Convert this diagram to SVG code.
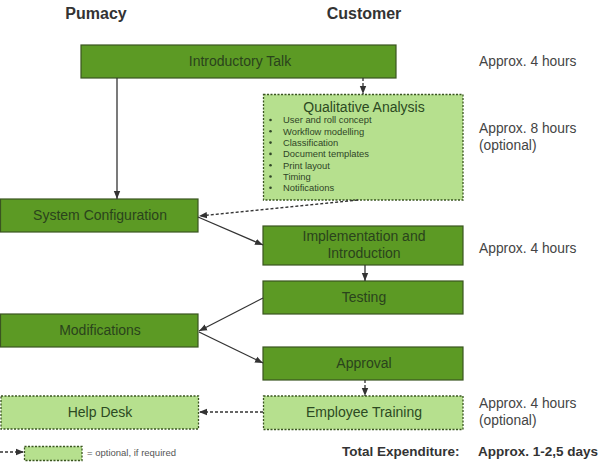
<svg xmlns="http://www.w3.org/2000/svg" width="600" height="462" viewBox="0 0 600 462">
<defs>
<marker id="ah" markerUnits="userSpaceOnUse" markerWidth="8" markerHeight="8" viewBox="0 0 8 8" refX="8" refY="4" orient="auto">
<path d="M0,0.8 L8,4 L0,7.2 z" fill="#333"/>
</marker>
<style>
.dark{fill:#5c9a24;stroke:#3a5520;stroke-width:1.2}
.light{fill:#b6e08e;stroke:#3a5520;stroke-width:1.3;stroke-dasharray:2,1.5}
.t{font-family:"Liberation Sans",Arial,sans-serif;font-size:14px;text-anchor:middle}
.td{fill:#2a431c}
.tl{fill:#2c4a22}
.b{font-family:"Liberation Sans",Arial,sans-serif;font-size:9.4px;fill:#2f4527}
.side{font-family:"Liberation Sans",Arial,sans-serif;font-size:13.8px;fill:#444}
.hd{font-family:"Liberation Sans",Arial,sans-serif;font-size:16px;font-weight:bold;fill:#333;text-anchor:middle}
.tot{font-family:"Liberation Sans",Arial,sans-serif;font-size:13.5px;font-weight:bold;fill:#333}
.c{fill:none;stroke:#333;stroke-width:1.3;marker-end:url(#ah)}
.dsh{stroke-dasharray:3,2}
</style>
</defs>
<rect width="600" height="462" fill="#fff"/>
<g id="headers">
<text class="hd" x="96" y="19">Pumacy</text>
<text class="hd" x="364" y="19">Customer</text>
</g>
<g id="intro"><rect class="dark" x="81" y="45" width="315" height="33"/><text class="t td" x="240" y="66">Introductory Talk</text></g>
<g id="qual"><rect class="light" x="263.5" y="94.5" width="199.5" height="105.5"/>
<text class="t tl" x="364" y="112">Qualitative Analysis</text>
<g fill="#2f4527"><circle cx="270.5" cy="120" r="1.3"/><circle cx="270.5" cy="131.3" r="1.3"/><circle cx="270.5" cy="142.6" r="1.3"/><circle cx="270.5" cy="153.9" r="1.3"/><circle cx="270.5" cy="165.2" r="1.3"/><circle cx="270.5" cy="176.5" r="1.3"/><circle cx="270.5" cy="187.8" r="1.3"/></g>
<text class="b" x="283" y="123.3">User and roll concept</text>
<text class="b" x="283" y="134.6">Workflow modelling</text>
<text class="b" x="283" y="145.9">Classification</text>
<text class="b" x="283" y="157.2">Document templates</text>
<text class="b" x="283" y="168.5">Print layout</text>
<text class="b" x="283" y="179.8">Timing</text>
<text class="b" x="283" y="191.1">Notifications</text>
</g>
<g id="sysconfig"><rect class="dark" x="0.5" y="199" width="197.5" height="33"/><text class="t td" x="100" y="220">System Configuration</text></g>
<g id="impl"><rect class="dark" x="263" y="226" width="200" height="39"/><text class="t td" x="364" y="241">Implementation and</text><text class="t td" x="364" y="258">Introduction</text></g>
<g id="testing"><rect class="dark" x="263" y="281" width="200" height="33"/><text class="t td" x="364" y="302">Testing</text></g>
<g id="modifications"><rect class="dark" x="0.5" y="314" width="197.5" height="33"/><text class="t td" x="100" y="335">Modifications</text></g>
<g id="approval"><rect class="dark" x="263" y="347" width="200" height="33"/><text class="t td" x="364" y="368">Approval</text></g>
<g id="training"><rect class="light" x="263.5" y="396" width="199.5" height="33.5"/><text class="t tl" x="364" y="417">Employee Training</text></g>
<g id="helpdesk"><rect class="light" x="1" y="396" width="197.5" height="33"/><text class="t tl" x="100" y="417">Help Desk</text></g>
<g id="connectors">
<line class="c dsh" x1="363" y1="78" x2="363" y2="94"/>
<line class="c" x1="117" y1="78" x2="117" y2="199"/>
<line class="c dsh" x1="358" y1="200" x2="199" y2="216"/>
<line class="c" x1="198" y1="217" x2="263" y2="245"/>
<line class="c" x1="365" y1="265" x2="365" y2="281"/>
<line class="c" x1="263" y1="298" x2="199" y2="331"/>
<line class="c" x1="199" y1="332" x2="263" y2="363"/>
<line class="c dsh" x1="365" y1="380" x2="365" y2="396"/>
<line class="c dsh" x1="263" y1="412" x2="199" y2="412"/>
</g>
<g id="durations">
<text class="side" x="479" y="66">Approx. 4 hours</text>
<text class="side" x="479" y="133">Approx. 8 hours</text>
<text class="side" x="479" y="150">(optional)</text>
<text class="side" x="479" y="253">Approx. 4 hours</text>
<text class="side" x="479" y="408">Approx. 4 hours</text>
<text class="side" x="479" y="425">(optional)</text>
<text class="tot" x="342" y="456">Total Expenditure:</text>
<text class="tot" x="478" y="456">Approx. 1-2,5 days</text>
</g>
<g id="legend">
<line class="c dsh" x1="0" y1="452" x2="24" y2="452"/>
<rect class="light" x="24.5" y="446.5" width="57.5" height="14"/>
<text x="87" y="455.5" font-family="Liberation Sans, Arial, sans-serif" font-size="9.5" fill="#555">= optional, if required</text>
</g>
</svg>
